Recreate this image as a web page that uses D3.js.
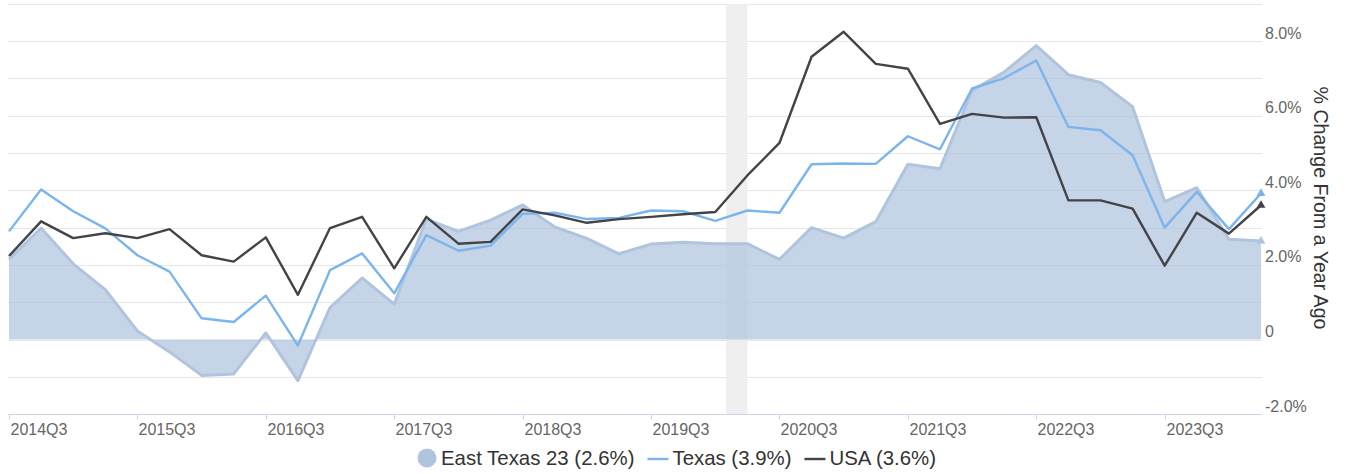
<!DOCTYPE html>
<html>
<head>
<meta charset="utf-8">
<script src="https://cdn.jsdelivr.net/npm/d3@7"></script>
<style>
  html, body { margin: 0; padding: 0; background: #fff; }
  svg { display: block; font-family: "Liberation Sans", Arial, sans-serif; }
</style>
</head>
<body>
<svg id="chart" width="1349" height="474"></svg>
<script>
// ---- data ----
const quarters = [
  "2014Q3","2014Q4","2015Q1","2015Q2","2015Q3","2015Q4","2016Q1","2016Q2",
  "2016Q3","2016Q4","2017Q1","2017Q2","2017Q3","2017Q4","2018Q1","2018Q2",
  "2018Q3","2018Q4","2019Q1","2019Q2","2019Q3","2019Q4","2020Q1","2020Q2",
  "2020Q3","2020Q4","2021Q1","2021Q2","2021Q3","2021Q4","2022Q1","2022Q2",
  "2022Q3","2022Q4","2023Q1","2023Q2","2023Q3","2023Q4","2024Q1","2024Q2"
];
const eastTexas = [2.15, 2.99, 2.03, 1.34, 0.23, -0.33, -0.96, -0.92, 0.18, -1.10,
  0.86, 1.65, 0.95, 3.23, 2.90, 3.20, 3.61, 3.02, 2.71, 2.30,
  2.56, 2.61, 2.57, 2.57, 2.15, 3.00, 2.72, 3.16, 4.70, 4.58,
  6.68, 7.17, 7.88, 7.10, 6.89, 6.24, 3.70, 4.07, 2.69, 2.64];
const texas = [2.90, 4.02, 3.44, 2.98, 2.26, 1.82, 0.57, 0.47, 1.18, -0.16,
  1.86, 2.31, 1.24, 2.80, 2.38, 2.52, 3.37, 3.40, 3.23, 3.26,
  3.46, 3.44, 3.18, 3.46, 3.40, 4.70, 4.72, 4.71, 5.45, 5.10,
  6.73, 7.01, 7.48, 5.70, 5.61, 4.94, 3.00, 3.96, 2.96, 3.92];
const usa = [2.24, 3.17, 2.72, 2.85, 2.72, 2.96, 2.26, 2.09, 2.74, 1.20,
  2.99, 3.29, 1.91, 3.29, 2.57, 2.62, 3.49, 3.33, 3.13, 3.23,
  3.29, 3.36, 3.42, 4.40, 5.27, 7.58, 8.25, 7.39, 7.26, 5.78,
  6.05, 5.95, 5.96, 3.73, 3.73, 3.51, 1.98, 3.40, 2.84, 3.60];
const xTickLabels = ["2014Q3","2015Q3","2016Q3","2017Q3","2018Q3","2019Q3","2020Q3","2021Q3","2022Q3","2023Q3"];
const yTickValues = [-2, 0, 2, 4, 6, 8];
const yGridValues = [-1, 0, 1, 2, 3, 4, 5, 6, 7, 8, 9];
const recession = ["2020Q1", "2020Q2"]; // Feb 2020 - Apr 2020
const recessionOffset = [1/3, 1];       // in quarters, from 2020Q1 start
const legendItems = [
  { name: "East Texas 23 (2.6%)", type: "area" },
  { name: "Texas (3.9%)", type: "line" },
  { name: "USA (3.6%)", type: "line" }
];
const yTitle = "% Change From a Year Ago";

// ---- layout ----
const svg = d3.select("#chart");
const plotLeft = 9, plotRight = 1261;
const x = d3.scaleLinear().domain([0, quarters.length - 1]).range([plotLeft, plotRight]);
const y = d3.scaleLinear().domain([-2, 9]).range([414.2, 3.8]);
const gridLeft = 8, gridRight = 1262;

const colors = { area: "#b0c4de", texas: "#7cb5ec", usa: "#434348" };

// gridlines
svg.append("g").selectAll("line").data(yGridValues).join("line")
  .attr("x1", gridLeft).attr("x2", gridRight)
  .attr("y1", d => Math.round(y(d)) + 0.5).attr("y2", d => Math.round(y(d)) + 0.5)
  .attr("stroke", "#e6e6e6").attr("stroke-width", 1);

// recession band
const qi = q => quarters.indexOf(q);
svg.append("rect")
  .attr("x", x(qi(recession[0]) + recessionOffset[0]))
  .attr("width", x(qi(recession[0]) + recessionOffset[1]) - x(qi(recession[0]) + recessionOffset[0]))
  .attr("y", y(9))
  .attr("height", y(-2) - y(9))
  .attr("fill", "#efefef");

// area
const idx = d3.range(quarters.length);
svg.append("path").datum(idx)
  .attr("d", d3.area().x(i => x(i)).y0(y(0)).y1(i => y(eastTexas[i])))
  .attr("fill", colors.area).attr("fill-opacity", 0.72);
svg.append("path").datum(idx)
  .attr("d", d3.line().x(i => x(i)).y(i => y(eastTexas[i])))
  .attr("fill", "none").attr("stroke", colors.area).attr("stroke-width", 3)
  .attr("stroke-linejoin", "round");

// lines
function drawLine(vals, color) {
  svg.append("path").datum(idx)
    .attr("d", d3.line().x(i => x(i)).y(i => y(vals[i])))
    .attr("fill", "none").attr("stroke", color).attr("stroke-width", 2.4)
    .attr("stroke-linejoin", "round");
}
drawLine(texas, colors.texas);
drawLine(usa, colors.usa);

// end markers (triangles)
const tri = d3.symbol().type(d3.symbolTriangle).size(34);
[[eastTexas, colors.area], [texas, colors.texas], [usa, colors.usa]].forEach(([vals, c]) => {
  const last = vals.length - 1;
  svg.append("path").attr("d", tri())
    .attr("transform", `translate(${x(last)},${y(vals[last])})`)
    .attr("fill", c);
});

// x axis
const axisY = Math.round(y(-2)) + 0.5;
svg.append("line").attr("x1", gridLeft).attr("x2", gridRight)
  .attr("y1", axisY).attr("y2", axisY).attr("stroke", "#ccd6eb").attr("stroke-width", 1);
const xt = svg.append("g");
xTickLabels.forEach(lbl => {
  const xi = Math.round(x(qi(lbl))) + 0.5;
  xt.append("line").attr("x1", xi).attr("x2", xi).attr("y1", axisY).attr("y2", axisY + 5)
    .attr("stroke", "#ccd6eb");
  xt.append("text").attr("x", xi + 1).attr("y", axisY + 20)
    .attr("fill", "#666").attr("font-size", 16).text(lbl);
});

// y axis labels (right)
svg.append("g").selectAll("text").data(yTickValues).join("text")
  .attr("x", 1265).attr("y", d => y(d) - 2.5)
  .attr("fill", "#666").attr("font-size", 16)
  .text(d => d === 0 ? "0" : d.toFixed(1) + "%");

// y axis title
svg.append("text")
  .attr("transform", "translate(1314,208) rotate(90)")
  .attr("text-anchor", "middle")
  .attr("fill", "#333").attr("font-size", 19.6)
  .text(yTitle);

// legend
const lg = svg.append("g");
let lx = 417;
const ly = 459;
legendItems.forEach((it, k) => {
  const color = [colors.area, colors.texas, colors.usa][k];
  if (it.type === "area") {
    lg.append("circle").attr("cx", lx + 10).attr("cy", ly - 1).attr("r", 9.5).attr("fill", color);
    lx += 24;
  } else {
    lg.append("line").attr("x1", lx).attr("x2", lx + 21).attr("y1", ly).attr("y2", ly)
      .attr("stroke", color).attr("stroke-width", 2.4);
    lx += 25;
  }
  const t = lg.append("text").attr("x", lx).attr("y", ly + 6)
    .attr("fill", "#333").attr("font-size", 20.4).text(it.name);
  lx += t.node().getComputedTextLength() + 13;
});
</script>
</body>
</html>
